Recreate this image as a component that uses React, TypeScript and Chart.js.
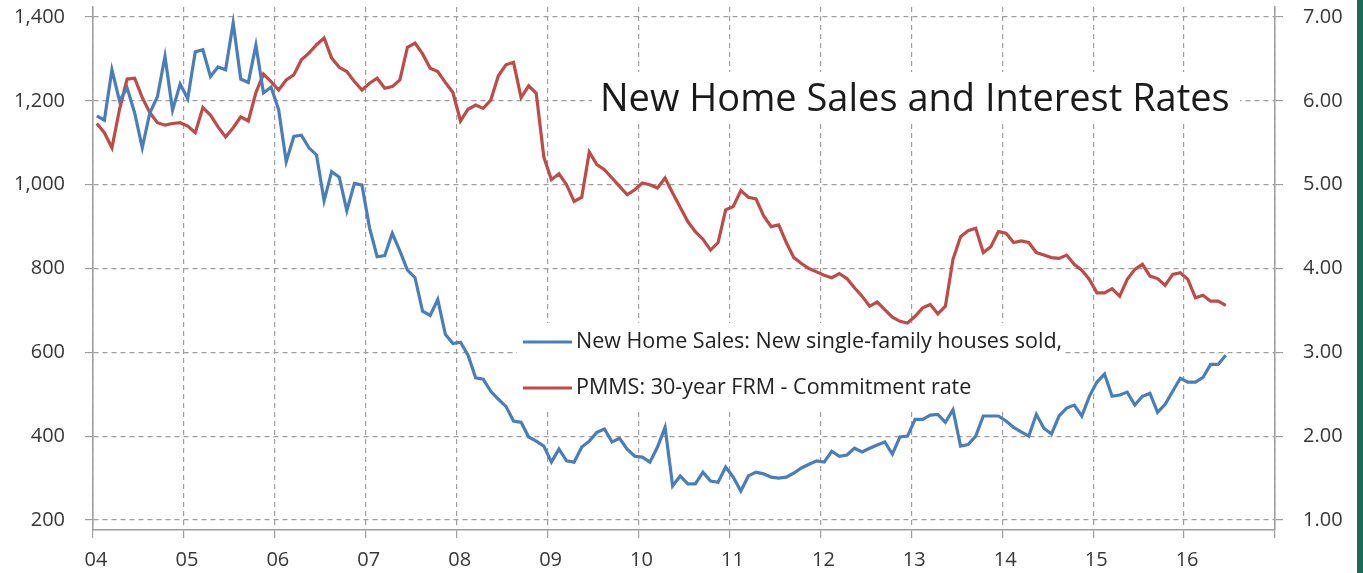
import { useEffect, useRef } from 'react';
import { Chart, registerables } from 'chart.js';

Chart.register(...registerables);

// ---- categories ----
const START_YEAR = 2004;
const yearTicks = [2004, 2005, 2006, 2007, 2008, 2009, 2010, 2011, 2012, 2013, 2014, 2015, 2016, 2017];
const yearLabels = ['04', '05', '06', '07', '08', '09', '10', '11', '12', '13', '14', '15', '16', ''];
const salesTicks = [200, 400, 600, 800, 1000, 1200, 1400];
const rateTicks = [1, 2, 3, 4, 5, 6, 7];

// ---- series values (monthly, Jan 2004 - Jun 2016) ----
const salesLabel = 'New Home Sales: New single-family houses sold,';
const salesValues = [
  1164, 1154, 1274, 1200, 1231, 1171, 1088, 1171, 1210, 1306, 1178, 1240, // 2004
  1205, 1317, 1322, 1258, 1281, 1274, 1386, 1252, 1244, 1333, 1219, 1233, // 2005
  1179, 1055, 1115, 1118, 1088, 1071, 962, 1031, 1018, 938, 1003, 999, // 2006
  897, 828, 831, 884, 842, 796, 778, 698, 688, 726, 643, 621, // 2007
  624, 593, 539, 536, 507, 488, 471, 436, 433, 398, 388, 376, // 2008
  338, 369, 341, 338, 374, 388, 409, 417, 386, 395, 369, 352, // 2009
  350, 338, 374, 421, 281, 305, 286, 286, 314, 293, 290, 326, // 2010
  302, 269, 305, 314, 310, 302, 300, 302, 312, 324, 333, 341, // 2011
  338, 364, 352, 355, 371, 362, 371, 379, 386, 357, 398, 400, // 2012
  440, 440, 450, 452, 433, 463, 376, 380, 400, 448, 448, 448, // 2013
  436, 421, 410, 400, 452, 419, 405, 448, 467, 474, 448, 495, // 2014
  529, 548, 495, 498, 505, 474, 495, 502, 457, 476, 507, 538, // 2015
  529, 529, 540, 571, 571, 593, // 2016
];

const rateLabel = 'PMMS: 30-year FRM - Commitment rate';
const rateValues = [
  5.73, 5.62, 5.44, 5.90, 6.26, 6.27, 6.04, 5.86, 5.74, 5.71, 5.73, 5.74, // 2004
  5.70, 5.62, 5.92, 5.83, 5.69, 5.57, 5.68, 5.81, 5.76, 6.10, 6.32, 6.23, // 2005
  6.13, 6.25, 6.31, 6.49, 6.57, 6.67, 6.75, 6.51, 6.40, 6.35, 6.23, 6.13, // 2006
  6.21, 6.27, 6.15, 6.17, 6.25, 6.64, 6.69, 6.56, 6.39, 6.35, 6.22, 6.10, // 2007
  5.76, 5.90, 5.95, 5.91, 6.01, 6.30, 6.43, 6.46, 6.04, 6.18, 6.09, 5.33, // 2008
  5.06, 5.13, 5.00, 4.80, 4.85, 5.39, 5.24, 5.18, 5.08, 4.98, 4.88, 4.94, // 2009
  5.02, 5.00, 4.96, 5.08, 4.90, 4.73, 4.56, 4.44, 4.35, 4.22, 4.31, 4.70, // 2010
  4.74, 4.93, 4.85, 4.83, 4.63, 4.50, 4.52, 4.31, 4.13, 4.06, 4.00, 3.96, // 2011
  3.92, 3.89, 3.94, 3.88, 3.77, 3.67, 3.55, 3.60, 3.51, 3.42, 3.37, 3.35, // 2012
  3.43, 3.53, 3.57, 3.46, 3.55, 4.11, 4.38, 4.45, 4.48, 4.19, 4.26, 4.44, // 2013
  4.42, 4.31, 4.33, 4.31, 4.19, 4.16, 4.13, 4.12, 4.16, 4.05, 3.98, 3.87, // 2014
  3.71, 3.71, 3.76, 3.67, 3.87, 3.99, 4.05, 3.91, 3.88, 3.80, 3.93, 3.95, // 2015
  3.87, 3.65, 3.68, 3.61, 3.61, 3.56, // 2016
];

const chartTitle = 'New Home Sales and Interest Rates';

// month categories ("2004-01" ...), one per value
const monthLabels: string[] = salesValues.map((_, i) => {
  const y = START_YEAR + Math.floor(i / 12);
  const m = (i % 12) + 1;
  return `${y}-${m < 10 ? '0' + m : m}`;
});
const monthToX = (label: string) => {
  const [y, m] = label.split('-').map(Number);
  return y + (m - 0.5) / 12;
};

const BLUE = '#4A7EBB';
const RED = '#BE4B48';
const GRID = '#9e9e9e';
const AXIS = '#9c9c9c';
const TEXT = '#363636';
const FONT = "'Open Sans', 'DejaVu Sans', sans-serif";

const overlayPlugin = {
  id: 'overlay',
  beforeDatasetsDraw(chart: any) {
    const ctx = chart.ctx as CanvasRenderingContext2D;
    ctx.save();
    // white boxes behind title and legend
    ctx.fillStyle = '#ffffff';
    ctx.fillRect(592, 72, 648, 50);
    ctx.fillRect(517, 323, 548, 89);
    // title
    ctx.fillStyle = '#1a1a1a';
    ctx.font = `38px ${FONT}`;
    ctx.textBaseline = 'alphabetic';
    ctx.textAlign = 'left';
    ctx.fillText(chartTitle, 600, 111);
    // legend
    const rows = [
      { y: 342, ds: chart.data.datasets[0] },
      { y: 388, ds: chart.data.datasets[1] },
    ];
    ctx.font = `21.5px ${FONT}`;
    rows.forEach((r) => {
      ctx.strokeStyle = r.ds.borderColor;
      ctx.lineWidth = 3;
      ctx.beginPath();
      ctx.moveTo(523, r.y);
      ctx.lineTo(572, r.y);
      ctx.stroke();
      ctx.fillStyle = '#222222';
      ctx.textBaseline = 'middle';
      ctx.fillText(r.ds.label, 576, r.y);
    });
    ctx.restore();
  },
};

export default function App() {
  const canvasRef = useRef<HTMLCanvasElement | null>(null);

  useEffect(() => {
    if (!canvasRef.current) return;
    const tickFont = { family: FONT, size: 20 };
    const chart = new Chart(canvasRef.current, {
      type: 'line',
      data: {
        datasets: [
          {
            label: salesLabel,
            data: monthLabels.map((m, i) => ({ x: monthToX(m), y: salesValues[i] })),
            borderColor: BLUE,
            backgroundColor: BLUE,
            borderWidth: 3.2,
            pointRadius: 0,
            tension: 0,
            yAxisID: 'y',
          },
          {
            label: rateLabel,
            data: monthLabels.map((m, i) => ({ x: monthToX(m), y: rateValues[i] })),
            borderColor: RED,
            backgroundColor: RED,
            borderWidth: 3.2,
            pointRadius: 0,
            tension: 0,
            yAxisID: 'y1',
          },
        ],
      },
      plugins: [overlayPlugin],
      options: {
        responsive: false,
        animation: false,
        devicePixelRatio: 1,
        layout: { padding: { top: 7, left: 0, right: 0, bottom: 0 } },
        plugins: {
          legend: { display: false },
          tooltip: { enabled: false },
          title: { display: false },
        },
        scales: {
          x: {
            type: 'linear',
            min: yearTicks[0],
            max: yearTicks[yearTicks.length - 1],
            afterBuildTicks: (s: any) => {
              s.ticks = yearTicks.map((v) => ({ value: v }));
            },
            afterFit: (s: any) => {
              s.height = 43;
              s.paddingLeft = 0;
              s.paddingRight = 0;
            },
            ticks: {
              autoSkip: false,
              maxRotation: 0,
              minRotation: 0,
              padding: 10,
              labelOffset: 3,
              color: TEXT,
              font: tickFont,
              callback: (v: any) => yearLabels[yearTicks.indexOf(Number(v))] ?? '',
            },
            grid: { color: GRID, lineWidth: 1.2, tickLength: 8, tickColor: GRID },
            border: { color: AXIS, width: 1.5, dash: [5, 4] },
          },
          y: {
            type: 'linear',
            position: 'left',
            min: 176,
            max: 1424,
            afterBuildTicks: (s: any) => {
              s.ticks = salesTicks.map((v) => ({ value: v }));
            },
            afterFit: (s: any) => {
              s.width = 93;
              s.paddingTop = 0;
              s.paddingBottom = 0;
            },
            ticks: {
              padding: 20,
              color: TEXT,
              font: tickFont,
              callback: (v: any) => Number(v).toLocaleString('en-US'),
            },
            grid: { color: GRID, lineWidth: 1.2, tickLength: 8, tickColor: GRID },
            border: { color: AXIS, width: 1.5, dash: [5, 4] },
          },
          y1: {
            type: 'linear',
            position: 'right',
            min: 0.88,
            max: 7.12,
            afterBuildTicks: (s: any) => {
              s.ticks = rateTicks.map((v) => ({ value: v }));
            },
            afterFit: (s: any) => {
              s.width = 88;
              s.paddingTop = 0;
              s.paddingBottom = 0;
            },
            ticks: {
              padding: 20,
              color: TEXT,
              font: tickFont,
              callback: (v: any) => Number(v).toFixed(2),
            },
            grid: { drawOnChartArea: false, color: GRID, lineWidth: 1.2, tickLength: 8, tickColor: GRID },
            border: { color: AXIS, width: 1.5 },
          },
        },
      },
    } as any);
    return () => chart.destroy();
  }, []);

  return (
    <div style={{ position: 'fixed', left: 0, top: 0, width: 1363, height: 573, background: '#ffffff' }}>
      <canvas ref={canvasRef} width={1363} height={573} style={{ display: 'block' }} />
      <div style={{ position: 'absolute', right: 0, top: 0, width: 6, height: 573, background: '#1c6a57' }} />
    </div>
  );
}
